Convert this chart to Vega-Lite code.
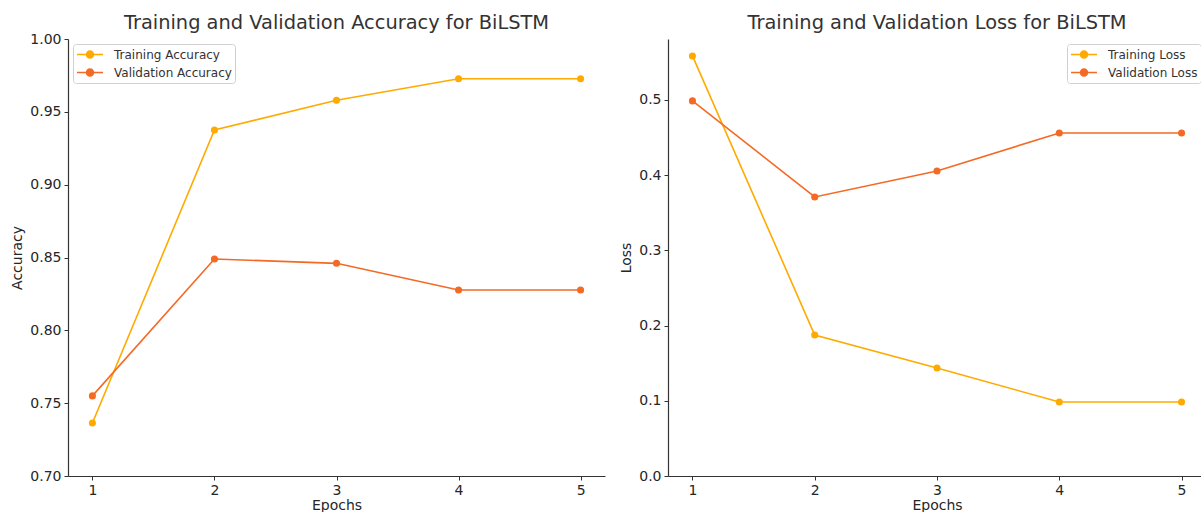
{
  "$schema": "https://vega.github.io/schema/vega-lite/v6.json",
  "background": "white",
  "padding": {"left": 10, "top": 12, "right": 0, "bottom": 0},
  "spacing": 14,
  "config": {
    "font": "DejaVu Sans",
    "view": {"stroke": null},
    "axis": {"grid": false, "domainColor": "#333333", "domainWidth": 1.2, "tickColor": "#333333", "tickSize": 4, "tickWidth": 1, "labelFontSize": 14, "labelColor": "#262626", "titleFontSize": 14, "titleFontWeight": "normal", "titleColor": "#262626", "labelPadding": 3},
    "title": {"fontSize": 19.4, "fontWeight": "normal", "color": "#333333"},
    "legend": {"offset": 5, "padding": 3, "strokeColor": "#d0d0d0", "fillColor": "white", "cornerRadius": 3, "labelFontSize": 12, "labelColor": "#333333", "rowPadding": 3, "symbolType": "M-2,0L2,0M0.54,0A0.54,0.54,0,1,1,-0.54,0A0.54,0.54,0,1,1,0.54,0Z", "symbolSize": 169, "symbolStrokeWidth": 1.5, "symbolOffset": 6.5, "labelOffset": 16.5}
  },
  "datasets": {
    "acc": [
      {"epoch": 1, "series": "Training Accuracy", "value": 0.7364},
      {"epoch": 2, "series": "Training Accuracy", "value": 0.9375},
      {"epoch": 3, "series": "Training Accuracy", "value": 0.958},
      {"epoch": 4, "series": "Training Accuracy", "value": 0.9727},
      {"epoch": 5, "series": "Training Accuracy", "value": 0.9727},
      {"epoch": 1, "series": "Validation Accuracy", "value": 0.755},
      {"epoch": 2, "series": "Validation Accuracy", "value": 0.849},
      {"epoch": 3, "series": "Validation Accuracy", "value": 0.846},
      {"epoch": 4, "series": "Validation Accuracy", "value": 0.8277},
      {"epoch": 5, "series": "Validation Accuracy", "value": 0.8277}
    ],
    "loss": [
      {"epoch": 1, "series": "Training Loss", "value": 0.5585},
      {"epoch": 2, "series": "Training Loss", "value": 0.1875},
      {"epoch": 3, "series": "Training Loss", "value": 0.1436},
      {"epoch": 4, "series": "Training Loss", "value": 0.0984},
      {"epoch": 5, "series": "Training Loss", "value": 0.0984},
      {"epoch": 1, "series": "Validation Loss", "value": 0.4987},
      {"epoch": 2, "series": "Validation Loss", "value": 0.371},
      {"epoch": 3, "series": "Validation Loss", "value": 0.4056},
      {"epoch": 4, "series": "Validation Loss", "value": 0.456},
      {"epoch": 5, "series": "Validation Loss", "value": 0.456}
    ]
  },
  "hconcat": [
    {
      "width": 537,
      "height": 437,
      "title": {"text": "Training and Validation Accuracy for BiLSTM", "offset": -1},
      "data": {"name": "acc"},
      "encoding": {
        "x": {"field": "epoch", "type": "quantitative", "scale": {"domain": [0.8, 5.2], "nice": false, "zero": false}, "axis": {"values": [1, 2, 3, 4, 5], "format": "d", "title": "Epochs", "titlePadding": 1}},
        "y": {"field": "value", "type": "quantitative", "scale": {"domain": [0.7, 1.0], "nice": false, "zero": false}, "axis": {"values": [0.7, 0.75, 0.8, 0.85, 0.9, 0.95, 1.0], "format": ".2f", "title": "Accuracy", "titlePadding": 5}},
        "color": {"field": "series", "type": "nominal", "scale": {"domain": ["Training Accuracy", "Validation Accuracy"], "range": ["#FFAA00", "#F46A25"]}, "legend": {"title": null, "orient": "top-left", "encode": {"symbols": {"update": {"fill": [{"test": "datum.value === 'Training Accuracy'", "value": "#FFAA00"}, {"value": "#F46A25"}], "stroke": [{"test": "datum.value === 'Training Accuracy'", "value": "#FFAA00"}, {"value": "#F46A25"}]}}}}}
      },
      "layer": [
        {"mark": {"type": "line", "strokeWidth": 1.6}},
        {"mark": {"type": "point", "filled": true, "size": 50, "opacity": 1}}
      ]
    },
    {
      "width": 538,
      "height": 437,
      "title": {"text": "Training and Validation Loss for BiLSTM", "offset": 6},
      "data": {"name": "loss"},
      "encoding": {
        "x": {"field": "epoch", "type": "quantitative", "scale": {"domain": [0.8, 5.2], "nice": false, "zero": false}, "axis": {"values": [1, 2, 3, 4, 5], "format": "d", "title": "Epochs", "titlePadding": 1}},
        "y": {"field": "value", "type": "quantitative", "scale": {"domain": [0, 0.581], "nice": false, "zero": false}, "axis": {"values": [0, 0.1, 0.2, 0.3, 0.4, 0.5], "format": ".1f", "title": "Loss", "titlePadding": 5}},
        "color": {"field": "series", "type": "nominal", "scale": {"domain": ["Training Loss", "Validation Loss"], "range": ["#FFAA00", "#F46A25"]}, "legend": {"title": null, "orient": "top-right", "encode": {"symbols": {"update": {"fill": [{"test": "datum.value === 'Training Loss'", "value": "#FFAA00"}, {"value": "#F46A25"}], "stroke": [{"test": "datum.value === 'Training Loss'", "value": "#FFAA00"}, {"value": "#F46A25"}]}}}}}
      },
      "layer": [
        {"mark": {"type": "line", "strokeWidth": 1.6}},
        {"mark": {"type": "point", "filled": true, "size": 50, "opacity": 1}}
      ]
    }
  ],
  "resolve": {"scale": {"color": "independent"}, "legend": {"color": "independent"}}
}
